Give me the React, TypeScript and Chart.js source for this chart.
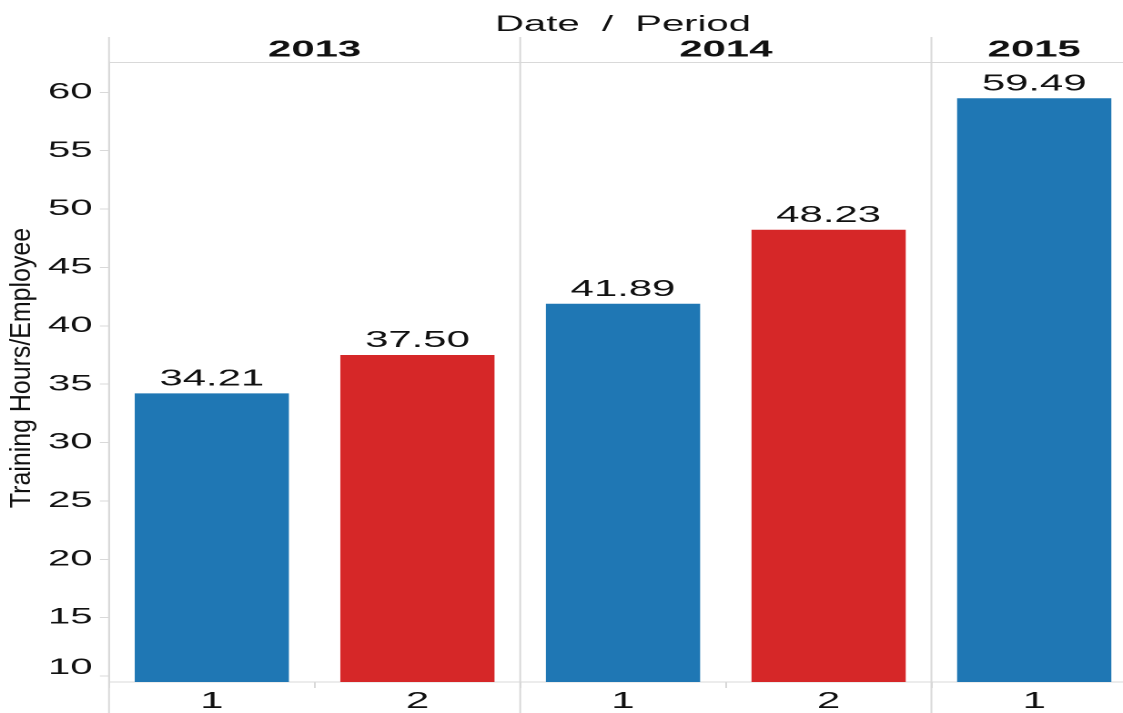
import React, { useEffect, useRef } from "react";
import { Chart, registerables } from "chart.js";

Chart.register(...registerables);

// ---- data ----
const YEARS = ["2013", "2014", "2015"];
const YEAR_OF_BAR = [0, 0, 1, 1, 2];
const PERIODS = ["1", "2", "1", "2", "1"];
const VALUES = [34.21, 37.5, 41.89, 48.23, 59.49];
const BAR_COLORS = ["#1f77b4", "#d62728", "#1f77b4", "#d62728", "#1f77b4"];
const Y_TICKS = [10, 15, 20, 25, 30, 35, 40, 45, 50, 55, 60];
const Y_MIN = 9.49;
const Y_MAX = 62.6;
const HEADER_TITLE = "Date  /  Period";
const Y_TITLE = "Training Hours/Employee";

// ---- layout (the picture is horizontally stretched) ----
const K = 1.82;
const FULL_W = 1145;
const H = 713;
const W = Math.round(FULL_W / K);
const LEFT = 109 / K;
const RIGHT = 1137 / K;
const FONT = "'Liberation Sans', Arial, Helvetica, sans-serif";
const LINE = "#d9d9d9";
const TXT = "#111";

const headerPlugin = {
  id: "header",
  afterDraw(chart: any) {
    const { ctx, chartArea } = chart;
    const xs = chart.scales.x;
    const ys = chart.scales.y;
    const catW = xs.getPixelForValue(1) - xs.getPixelForValue(0);
    ctx.save();
    ctx.strokeStyle = LINE;
    ctx.lineWidth = 1;
    ctx.beginPath();
    ctx.moveTo(chartArea.left, chartArea.top + 0.5);
    ctx.lineTo(chartArea.right, chartArea.top + 0.5);
    ctx.stroke();

    YEARS.forEach((yr, g) => {
      const idx = YEAR_OF_BAR.map((v, i) => (v === g ? i : -1)).filter((i) => i >= 0);
      const l = xs.getPixelForValue(idx[0]) - catW / 2;
      const r = xs.getPixelForValue(idx[idx.length - 1]) + catW / 2;
      ctx.strokeStyle = LINE;
      ctx.lineWidth = 1;
      ctx.beginPath();
      ctx.moveTo(l, 37);
      ctx.lineTo(l, H);
      ctx.stroke();
      ctx.fillStyle = TXT;
      ctx.font = `bold 23px ${FONT}`;
      ctx.textAlign = "center";
      ctx.textBaseline = "middle";
      ctx.fillText(yr, (l + r) / 2, 50);
    });

    ctx.fillStyle = TXT;
    ctx.font = `22px ${FONT}`;
    ctx.textAlign = "center";
    ctx.textBaseline = "middle";
    ctx.fillText(HEADER_TITLE, (chartArea.left + chartArea.right) / 2, 25);

    // lowest y tick label is nudged up so it stays clear of the axis
    const low = Y_TICKS[0];
    ctx.font = `22px ${FONT}`;
    ctx.textAlign = "right";
    ctx.textBaseline = "middle";
    ctx.fillText(String(low), chartArea.left - 5 - 4, ys.getPixelForValue(low) - 8);

    // y-axis title (not stretched like the rest)
    ctx.translate(30 / K, 368);
    ctx.scale(1 / K, 1);
    ctx.rotate(-Math.PI / 2);
    ctx.scale(0.89, 1);
    ctx.font = `28px ${FONT}`;
    ctx.textAlign = "center";
    ctx.textBaseline = "alphabetic";
    ctx.fillText(Y_TITLE, 0, 0);
    ctx.restore();
  },
};

const labelPlugin = {
  id: "barLabels",
  afterDatasetsDraw(chart: any) {
    const { ctx } = chart;
    const meta = chart.getDatasetMeta(0);
    ctx.save();
    ctx.fillStyle = TXT;
    ctx.font = `23px ${FONT}`;
    ctx.textAlign = "center";
    ctx.textBaseline = "alphabetic";
    meta.data.forEach((bar: any, i: number) => {
      ctx.fillText(VALUES[i].toFixed(2), bar.x, bar.y - 8);
    });
    ctx.restore();
  },
};

export default function App() {
  const ref = useRef<HTMLCanvasElement>(null);
  useEffect(() => {
    if (!ref.current) return;
    const chart = new Chart(ref.current, {
      type: "bar",
      data: {
        labels: PERIODS,
        datasets: [
          {
            data: VALUES,
            backgroundColor: BAR_COLORS,
            borderWidth: 0,
            categoryPercentage: 1,
            barPercentage: 0.75,
          },
        ],
      },
      options: {
        animation: false,
        responsive: false,
        devicePixelRatio: 2,
        layout: { padding: { top: 62, right: W - RIGHT, left: 0, bottom: 0 } },
        plugins: { legend: { display: false }, tooltip: { enabled: false }, title: { display: false } },
        scales: {
          x: {
            type: "category",
            offset: true,
            grid: {
              display: true,
              offset: true,
              drawOnChartArea: false,
              drawTicks: true,
              tickLength: 6,
              color: LINE,
            },
            border: { display: true, color: LINE },
            ticks: {
              font: { family: FONT, size: 23 },
              color: TXT,
              padding: 0,
              maxRotation: 0,
              autoSkip: false,
            },
            afterFit: (s: any) => {
              s.height = H - 682;
            },
          },
          y: {
            type: "linear",
            min: Y_MIN,
            max: Y_MAX,
            afterBuildTicks: (s: any) => {
              s.ticks = Y_TICKS.map((v) => ({ value: v }));
            },
            grid: { drawOnChartArea: false, drawTicks: true, tickLength: 5, color: LINE },
            border: { display: true, color: LINE },
            ticks: {
              font: { family: FONT, size: 22 },
              color: (c: any) => (c.tick && c.tick.value === Y_TICKS[0] ? "rgba(0,0,0,0)" : TXT),
              padding: 4,
            },
            afterFit: (s: any) => {
              s.width = LEFT;
            },
          },
        },
      },
      plugins: [headerPlugin, labelPlugin],
    } as any);
    return () => chart.destroy();
  }, []);

  return (
    <div
      style={{
        position: "fixed",
        left: 0,
        top: 0,
        width: 1123,
        height: H,
        overflow: "hidden",
        background: "#fff",
      }}
    >
      <div style={{ width: W, height: H, transform: `scaleX(${K})`, transformOrigin: "0 0" }}>
        <canvas ref={ref} width={W} height={H} style={{ display: "block" }} />
      </div>
    </div>
  );
}
